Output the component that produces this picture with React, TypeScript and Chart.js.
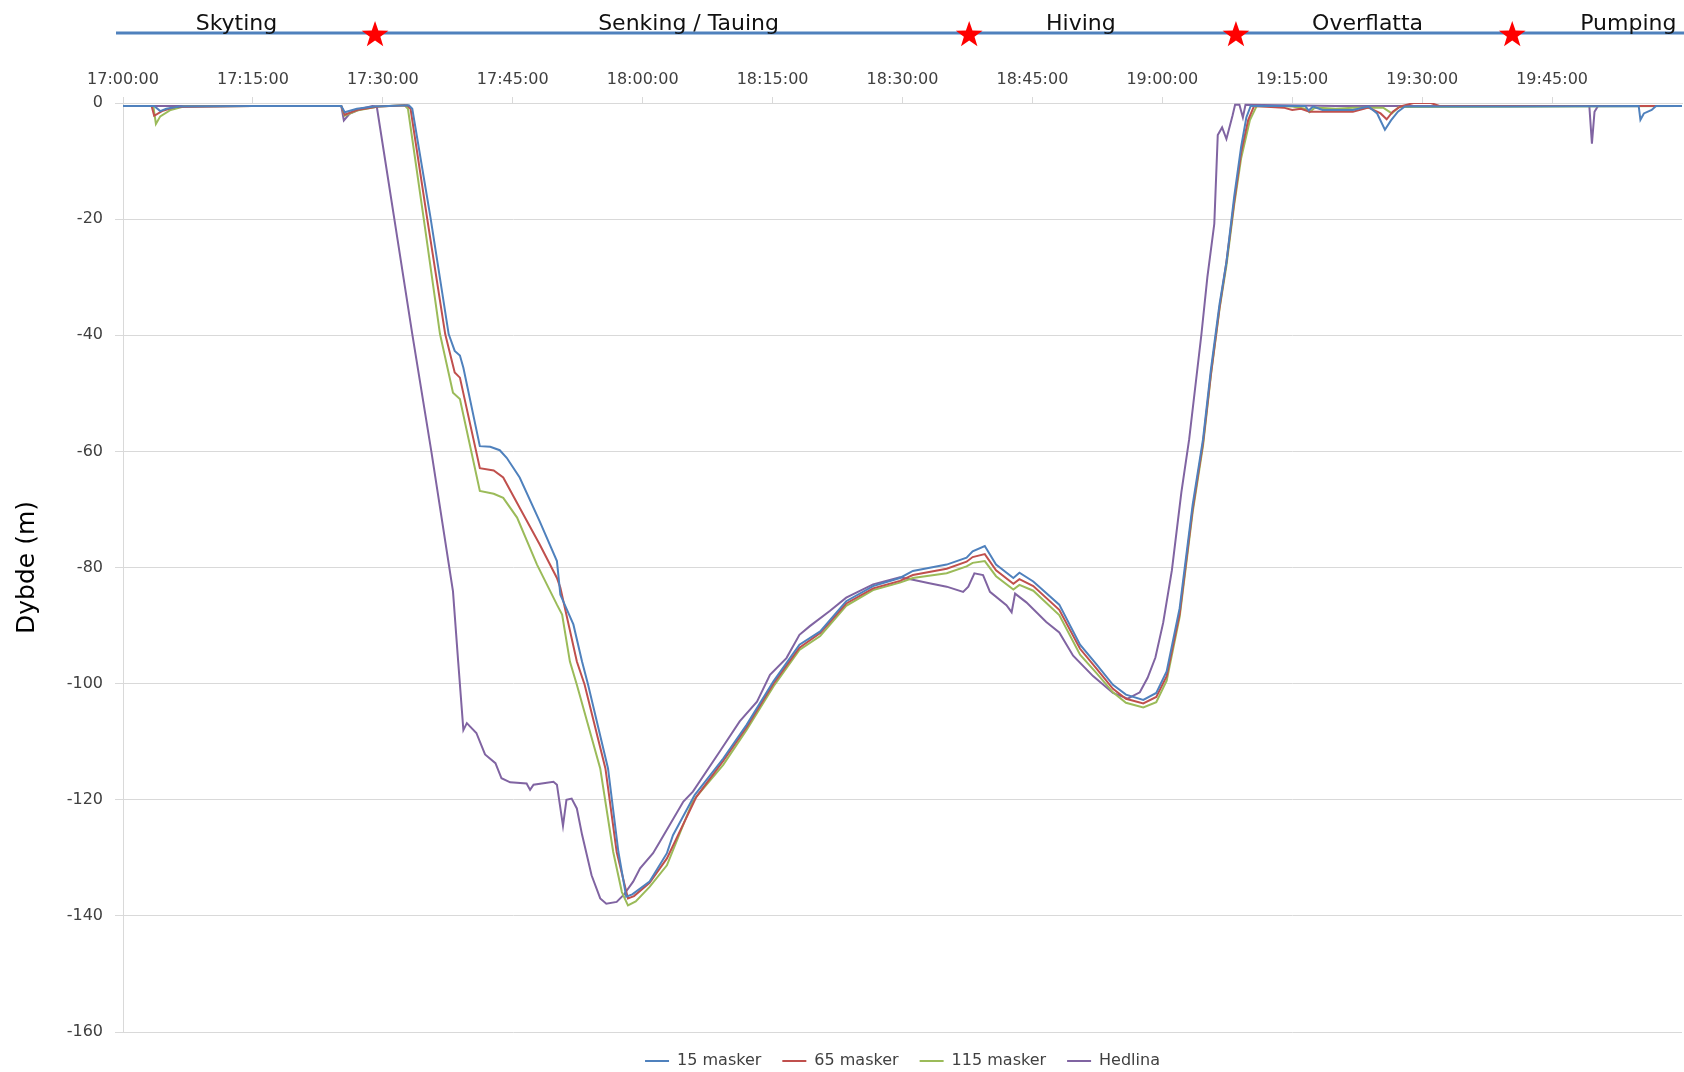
import React, { useEffect, useRef } from "react";
import { Chart, registerables } from "chart.js";

Chart.register(...registerables);

// ---------- data (time = minutes after 17:00:00, depth in metres) ----------
const START_HOUR = 17;
const X_MIN = 0;
const X_MAX = 180;
const X_STEP = 15;
const Y_MIN = -160;
const Y_MAX = 0;
const Y_STEP = 20;

const seriesNames = ["15 masker", "65 masker", "115 masker", "Hedlina"];
const seriesColors = ["#4F81BD", "#C0504D", "#9BBB59", "#8064A2"];

const masker15: [number, number][] = [
  [0, -0.5], [3.6, -0.5], [4.3, -1.4], [5.0, -1.0], [6.5, -0.6], [15, -0.5], [25.2, -0.5], [25.6, -1.6],
  [27, -1.0], [29, -0.6], [33.0, -0.4], [33.4, -1.0], [35.5, -19.7], [37.6, -39.8], [38.3, -42.7],
  [38.9, -43.5], [39.3, -45.6], [41.2, -59.1], [42.4, -59.2], [43.5, -59.8], [44.3, -61.1], [45.8, -64.5],
  [48.1, -72], [50.1, -78.9], [50.5, -84.7], [52.0, -89.8], [53.0, -96.2], [53.7, -100.2], [56.0, -114.6],
  [57.2, -129], [58.1, -136.7], [58.8, -136.3], [60.8, -134.1], [62.8, -129.2], [63.5, -126.1],
  [66.0, -119.2], [69.3, -112.9], [72.0, -107.1], [75.1, -99.6], [78.1, -93.3], [80.5, -91], [83.5, -85.8],
  [86.6, -83.2], [89.7, -81.8], [91.2, -80.6], [95.1, -79.5], [97.4, -78.3], [98.1, -77.2], [99.5, -76.3],
  [100.8, -79.5], [102.8, -81.8], [103.5, -80.9], [105.1, -82.4], [108.1, -86.4], [110.5, -93.3],
  [112.4, -96.7], [114.3, -100.2], [115.8, -101.9], [117.8, -102.8], [119.3, -101.6], [120.5, -97.9],
  [122.0, -87], [123.5, -69.2], [124.7, -57.9], [125.6, -46], [126.6, -34.7], [127.4, -27.4],
  [128.3, -16.1], [129.1, -7.5], [129.7, -2.5], [130.2, -0.5], [136.5, -0.5], [136.9, -1.3], [137.4, -0.6],
  [138.5, -1.2], [142.0, -1.2], [143.8, -0.6], [144.8, -1.8], [145.7, -4.6], [146.4, -3.0], [147.2, -1.5],
  [148.0, -0.6], [160, -0.6], [175.0, -0.5], [175.2, -2.9], [175.6, -1.8], [176.5, -1.2], [177.0, -0.5],
  [180, -0.5],
];

const masker65: [number, number][] = [
  [0, -0.5], [3.3, -0.5], [3.6, -2.2], [4.5, -1.4], [6, -0.7], [15, -0.5], [25.2, -0.5], [25.6, -2.0],
  [27, -1.2], [29.5, -0.6], [32.8, -0.4], [33.2, -1], [35.1, -19.7], [37.2, -39.8], [38.3, -46.4],
  [38.9, -47.3], [41.2, -62.9], [42.8, -63.3], [43.9, -64.5], [45.8, -69.7], [48.1, -76], [50.1, -81.8],
  [50.5, -83.5], [52.4, -96.2], [53.3, -100.2], [55.7, -114.6], [57.0, -129], [58.3, -137.0], [59, -136.6],
  [60.8, -134.3], [62.8, -130.1], [66.2, -119.5], [69.3, -113.3], [72, -107.5], [75.1, -100], [78.1, -93.8],
  [80.5, -91.3], [83.5, -86.2], [86.6, -83.6], [89.7, -82.3], [91.2, -81.3], [95.1, -80.2], [97.4, -79],
  [98.1, -78.2], [99.5, -77.7], [100.8, -80.5], [102.8, -82.8], [103.5, -82], [105.1, -83.2], [108.1, -87.3],
  [110.5, -94], [112.4, -97.4], [114.3, -100.9], [115.8, -102.6], [117.8, -103.4], [119.3, -102.3],
  [120.5, -98.7], [122.0, -88], [123.5, -70], [124.7, -58.5], [125.6, -46.8], [126.6, -35.3], [127.4, -27.4],
  [128.3, -17], [129.1, -8.5], [129.9, -3], [130.6, -0.5], [134, -0.8], [135, -1.2], [136, -1.0], [137, -1.5],
  [142, -1.5], [143.8, -0.8], [145.2, -1.8], [145.9, -2.8], [146.6, -1.5], [147.5, -0.6], [149, 0], [151, 0],
  [152, -0.5], [180, -0.5],
];

const masker115: [number, number][] = [
  [0, -0.5], [3.5, -0.5], [3.8, -3.6], [4.3, -2.3], [5.5, -1.2], [7, -0.6], [15, -0.5], [25.2, -0.5],
  [25.6, -2.2], [27, -1.3], [29.5, -0.6], [32.5, -0.4], [32.9, -1], [34.7, -19.7], [36.6, -39.8],
  [38.1, -49.9], [38.9, -51], [41.2, -66.8], [42.8, -67.3], [43.9, -68], [45.5, -71.4], [47.8, -79.5],
  [50.1, -86.4], [50.7, -88.1], [51.6, -96.2], [52.4, -100.2], [55.1, -114.6], [56.6, -129], [57.6, -135.9],
  [58.3, -138.2], [59.2, -137.5], [60.8, -135], [62.8, -131.3], [65.8, -120.2], [69.3, -114], [72, -108],
  [75.1, -100.5], [78.1, -94.2], [80.5, -91.8], [83.5, -86.6], [86.6, -83.9], [89.7, -82.6], [91.2, -81.8],
  [95.1, -81], [97.4, -79.8], [98.1, -79.2], [99.5, -78.9], [100.8, -81.5], [102.8, -83.8], [103.5, -83],
  [105.1, -84], [108.1, -88.2], [110.5, -95], [112.4, -98.2], [114.3, -101.5], [115.8, -103.3],
  [117.8, -104.1], [119.3, -103.2], [120.5, -99.5], [122.0, -88.5], [123.5, -70.5], [124.7, -59],
  [125.6, -47], [126.6, -35.5], [127.4, -28], [128.3, -17.5], [129.1, -9.5], [130.1, -3], [130.9, -0.5],
  [135, -0.6], [136.5, -1.0], [137, -1.6], [137.6, -0.8], [140, -1.0], [142, -0.8], [145.5, -0.8],
  [146.5, -1.8], [147.3, -0.7], [180, -0.5],
];

const hedlina: [number, number][] = [
  [0, -0.5], [15, -0.5], [25.2, -0.5], [25.5, -3.0], [26.2, -1.8], [27.5, -1.0], [28.8, -0.5], [29.3, -0.6],
  [31.3, -19.7], [33.4, -39.8], [35.6, -60], [38.1, -84.1], [38.7, -96.2], [39.3, -108], [39.7, -106.8],
  [40.8, -108.5], [41.8, -112.2], [43, -113.7], [43.7, -116.3], [44.7, -117], [46.6, -117.2], [47, -118.3],
  [47.4, -117.4], [49.7, -116.9], [50.1, -117.4], [50.8, -124.5], [51.2, -120], [51.8, -119.8],
  [52.4, -121.5], [53, -126], [54.1, -133], [55.1, -137], [55.8, -137.9], [57, -137.6], [57.8, -136.4],
  [58.9, -134.1], [59.7, -131.8], [61.2, -129.2], [62, -127.2], [64.7, -120.3], [65.8, -118.6],
  [68.9, -111.7], [71.2, -106.5], [73.2, -103.1], [74.7, -98.5], [76.6, -95.6], [78.1, -91.6], [79.3, -90.1],
  [81.6, -87.5], [83.5, -85.2], [86.6, -82.9], [89.7, -81.7], [91.2, -82.1], [93.1, -82.7], [95.1, -83.3],
  [97, -84.2], [97.6, -83.3], [98.3, -81], [99.3, -81.3], [100.1, -84.2], [102, -86.5], [102.6, -87.7],
  [103, -84.5], [104.3, -86], [106.6, -89.4], [108.1, -91.2], [109.7, -95.2], [112, -98.7], [114.3, -101.6],
  [116, -102.6], [117.4, -101.5], [118.3, -99], [119.2, -95.5], [120.1, -89.5], [121.1, -80.5],
  [122.2, -67], [123.1, -57.9], [124.5, -40], [125.2, -30], [126.0, -20.8], [126.4, -5.5], [126.9, -4.2],
  [127.4, -6.2], [128.1, -2.2], [128.4, -0.3], [128.9, -0.3], [129.3, -2.5], [129.6, -0.3], [140, -0.5],
  [169.3, -0.5], [169.6, -7.0], [169.9, -1.5], [170.3, -0.5], [180, -0.5],
];

const seriesData = [masker15, masker65, masker115, hedlina];

// phase header (times in minutes after 17:00:00)
const phaseLabels = ["Skyting", "Senking / Tauing", "Hiving", "Overflatta", "Pumping"];
const phaseLabelTimes = [13.1, 65.3, 110.6, 143.7, 173.8];
const starTimes = [29.1, 97.7, 128.5, 160.4];

const yTitle = "Dybde (m)";

// ---------- styling ----------
const FONT = '"DejaVu Sans", sans-serif';
const TEXT_GREY = "#404040";
const GRID_GREY = "#d9d9d9";
const HEADER_BLUE = "#4F81BD";

function fmtTime(v: number): string {
  const h = START_HOUR + Math.floor(v / 60);
  const m = Math.round(v % 60);
  return `${h}:${String(m).padStart(2, "0")}:00`;
}

function drawStar(ctx: CanvasRenderingContext2D, cx: number, cy: number, ro: number, ri: number) {
  ctx.beginPath();
  for (let i = 0; i < 10; i++) {
    const r = i % 2 === 0 ? ro : ri;
    const a = -Math.PI / 2 + (i * Math.PI) / 5;
    const px = cx + r * Math.cos(a);
    const py = cy + r * Math.sin(a);
    if (i === 0) ctx.moveTo(px, py);
    else ctx.lineTo(px, py);
  }
  ctx.closePath();
  ctx.fill();
}

const headerPlugin = {
  id: "phaseHeader",
  afterDraw(chart: any) {
    const { ctx, chartArea } = chart;
    const x = chart.scales.x;
    ctx.save();
    ctx.strokeStyle = HEADER_BLUE;
    ctx.lineWidth = 3;
    ctx.beginPath();
    ctx.moveTo(chartArea.left - 7, 33);
    ctx.lineTo(chart.width, 33);
    ctx.stroke();

    ctx.font = `22px ${FONT}`;
    ctx.fillStyle = "#111111";
    ctx.textAlign = "center";
    ctx.textBaseline = "alphabetic";
    phaseLabels.forEach((s, i) => {
      ctx.fillText(s, x.getPixelForValue(phaseLabelTimes[i]), 30);
    });

    ctx.fillStyle = "#FF0000";
    starTimes.forEach((t) => drawStar(ctx, x.getPixelForValue(t), 35, 14, 5.6));
    ctx.restore();
  },
};

export default function App() {
  const ref = useRef<HTMLCanvasElement>(null);

  useEffect(() => {
    document.body.style.margin = "0";
    const canvas = ref.current;
    if (!canvas) return;
    const chart = new Chart(canvas, {
      type: "line",
      data: {
        datasets: seriesData.map((pts, i) => ({
          label: seriesNames[i],
          data: pts.map(([t, d]) => ({ x: t, y: d })),
          borderColor: seriesColors[i],
          backgroundColor: seriesColors[i],
          borderWidth: 2,
          pointRadius: 0,
          pointHoverRadius: 0,
          tension: 0,
          fill: false,
        })),
      },
      options: {
        responsive: false,
        animation: false,
        devicePixelRatio: 1,
        layout: { padding: { top: 0, right: 2, bottom: 0, left: 0 } },
        plugins: {
          legend: {
            position: "bottom",
            fullSize: false,
            labels: {
              usePointStyle: true,
              pointStyle: "line",
              pointStyleWidth: 24,
              padding: 21,
              color: TEXT_GREY,
              font: { family: FONT, size: 16 },
            },
          },
          tooltip: { enabled: false },
        },
        scales: {
          x: {
            type: "linear",
            position: "top",
            min: X_MIN,
            max: X_MAX,
            afterBuildTicks: (scale: any) => {
              scale.ticks = scale.ticks.filter((t: any) => t.value < X_MAX);
            },
            afterFit: (scale: any) => {
              scale.height = 103;
            },
            ticks: {
              stepSize: X_STEP,
              autoSkip: false,
              maxRotation: 0,
              color: TEXT_GREY,
              font: { family: FONT, size: 16 },
              padding: 8,
              callback: (v: any) => fmtTime(Number(v)),
            },
            grid: {
              drawOnChartArea: false,
              drawTicks: true,
              tickLength: 6,
              color: GRID_GREY,
            },
            border: { display: true, color: GRID_GREY, width: 1 },
          },
          y: {
            type: "linear",
            min: Y_MIN,
            max: Y_MAX,
            afterFit: (scale: any) => {
              scale.width = 123;
            },
            ticks: {
              stepSize: Y_STEP,
              color: TEXT_GREY,
              font: { family: FONT, size: 16 },
              padding: 12,
            },
            grid: {
              color: GRID_GREY,
              lineWidth: 1,
              drawTicks: true,
              tickLength: 8,
            },
            border: { display: true, color: GRID_GREY, width: 1 },
            title: {
              display: true,
              text: yTitle,
              color: "#000000",
              font: { family: FONT, size: 25 },
              padding: { top: 12, bottom: 0 },
            },
          },
        },
      },
      plugins: [headerPlugin],
    } as any);
    return () => chart.destroy();
  }, []);

  return (
    <div
      style={{
        position: "fixed",
        left: 0,
        top: 0,
        width: 1684,
        height: 1072,
        overflow: "hidden",
        background: "#ffffff",
      }}
    >
      <canvas ref={ref} width={1684} height={1079} style={{ display: "block" }} />
    </div>
  );
}
